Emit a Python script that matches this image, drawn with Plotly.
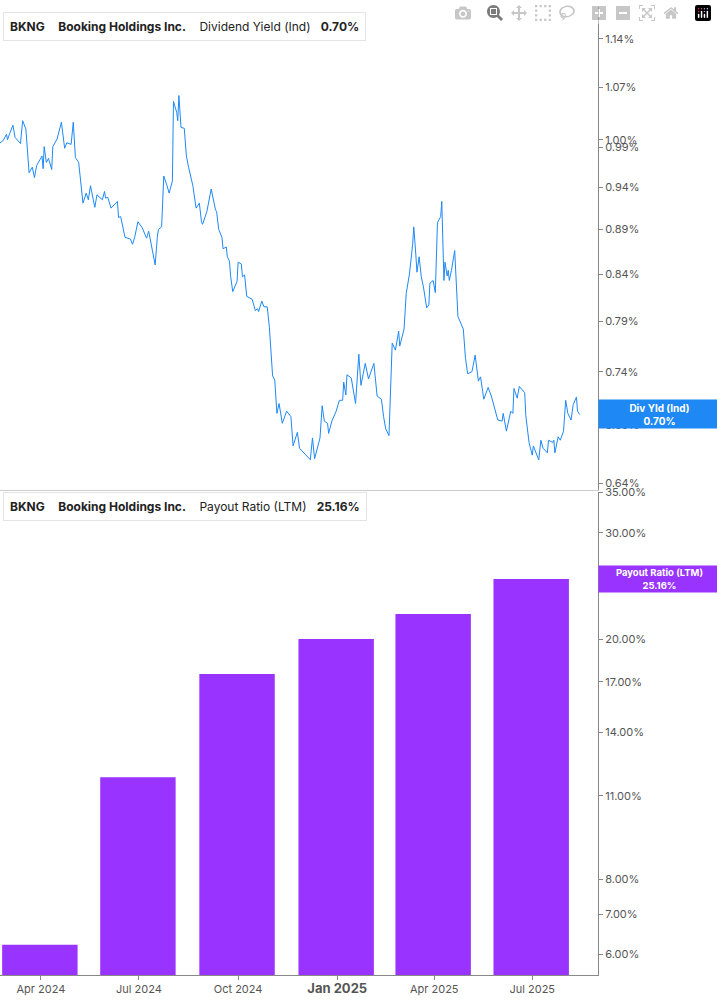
import plotly.graph_objects as go
from plotly.subplots import make_subplots
import math

# ---------------------
# Data
# ---------------------
yield_dates = [
    "2024-02-23", "2024-02-26", "2024-02-29", "2024-03-01", "2024-03-03", "2024-03-06", "2024-03-08",
    "2024-03-13", "2024-03-15", "2024-03-18", "2024-03-21", "2024-03-24", "2024-03-26", "2024-03-28",
    "2024-04-02", "2024-04-03", "2024-04-04", "2024-04-06", "2024-04-08", "2024-04-11", "2024-04-12",
    "2024-04-16", "2024-04-20", "2024-04-21", "2024-04-23", "2024-04-25", "2024-04-29", "2024-05-01",
    "2024-05-03", "2024-05-06", "2024-05-10", "2024-05-13", "2024-05-15", "2024-05-17", "2024-05-21",
    "2024-05-23", "2024-05-28", "2024-05-30", "2024-05-31", "2024-06-02", "2024-06-05", "2024-06-11",
    "2024-06-12", "2024-06-14", "2024-06-18", "2024-06-23", "2024-06-25", "2024-06-27", "2024-06-30",
    "2024-07-04", "2024-07-08", "2024-07-10", "2024-07-13", "2024-07-16", "2024-07-18", "2024-07-19",
    "2024-07-22", "2024-07-24", "2024-07-27", "2024-07-29", "2024-08-01", "2024-08-02", "2024-08-05",
    "2024-08-06", "2024-08-07", "2024-08-09", "2024-08-12", "2024-08-14", "2024-08-16", "2024-08-19",
    "2024-08-20", "2024-08-23", "2024-08-26", "2024-08-28", "2024-08-29", "2024-09-02", "2024-09-06",
    "2024-09-10", "2024-09-11", "2024-09-13", "2024-09-16", "2024-09-17", "2024-09-20", "2024-09-21",
    "2024-09-23", "2024-09-24", "2024-09-26", "2024-09-30", "2024-10-01", "2024-10-04", "2024-10-05",
    "2024-10-07", "2024-10-09", "2024-10-14", "2024-10-17", "2024-10-19", "2024-10-20", "2024-10-23",
    "2024-10-25", "2024-10-28", "2024-10-30", "2024-11-02", "2024-11-04", "2024-11-06", "2024-11-08",
    "2024-11-11", "2024-11-15", "2024-11-19", "2024-11-21", "2024-11-25", "2024-11-27", "2024-12-07",
    "2024-12-09", "2024-12-11", "2024-12-16", "2024-12-18", "2024-12-20", "2024-12-23", "2024-12-24",
    "2024-12-27", "2024-12-31", "2025-01-03", "2025-01-06", "2025-01-07", "2025-01-09", "2025-01-10",
    "2025-01-14", "2025-01-18", "2025-01-21", "2025-01-23", "2025-01-27", "2025-01-30", "2025-02-04",
    "2025-02-07", "2025-02-11", "2025-02-13", "2025-02-15", "2025-02-18", "2025-02-21", "2025-02-24",
    "2025-02-27", "2025-02-28", "2025-03-04", "2025-03-06", "2025-03-09", "2025-03-12", "2025-03-13",
    "2025-03-15", "2025-03-16", "2025-03-18", "2025-03-20", "2025-03-22", "2025-03-25", "2025-03-27",
    "2025-03-28", "2025-03-31", "2025-04-02", "2025-04-04", "2025-04-07", "2025-04-08", "2025-04-10",
    "2025-04-11", "2025-04-13", "2025-04-14", "2025-04-15", "2025-04-17", "2025-04-20", "2025-04-23",
    "2025-04-28", "2025-04-30", "2025-05-02", "2025-05-06", "2025-05-09", "2025-05-12", "2025-05-14",
    "2025-05-16", "2025-05-17", "2025-05-21", "2025-05-24", "2025-05-30", "2025-06-03", "2025-06-04",
    "2025-06-07", "2025-06-11", "2025-06-13", "2025-06-14", "2025-06-17", "2025-06-19", "2025-06-24",
    "2025-06-25", "2025-06-28", "2025-07-01", "2025-07-02", "2025-07-07", "2025-07-09", "2025-07-11",
    "2025-07-15", "2025-07-16", "2025-07-20", "2025-07-21", "2025-07-22", "2025-07-25", "2025-07-27",
    "2025-07-30", "2025-08-01", "2025-08-03", "2025-08-06", "2025-08-08", "2025-08-11", "2025-08-12",
    "2025-08-14",
]
yield_values = [
    0.996, 0.999, 1.007, 1.000, 1.008, 1.019, 1.003,
    0.995, 1.025, 1.014, 0.958, 0.965, 0.952, 0.967,
    0.979, 0.963, 0.991, 0.971, 0.976, 0.962, 0.991,
    1.001, 1.023, 1.011, 0.989, 0.996, 0.994, 1.023,
    0.977, 0.971, 0.921, 0.933, 0.925, 0.942, 0.916,
    0.931, 0.925, 0.935, 0.927, 0.928, 0.915, 0.923,
    0.904, 0.905, 0.881, 0.879, 0.873, 0.881, 0.899,
    0.892, 0.880, 0.888, 0.870, 0.850, 0.881, 0.890,
    0.893, 0.954, 0.942, 0.933, 0.948, 1.051, 1.036,
    1.025, 1.059, 1.016, 1.015, 0.979, 0.965, 0.946,
    0.942, 0.915, 0.921, 0.899, 0.896, 0.911, 0.938,
    0.913, 0.911, 0.890, 0.881, 0.868, 0.870, 0.859,
    0.854, 0.838, 0.821, 0.832, 0.853, 0.851, 0.837,
    0.839, 0.816, 0.813, 0.801, 0.803, 0.800, 0.811,
    0.805, 0.805, 0.784, 0.736, 0.732, 0.701, 0.710,
    0.692, 0.703, 0.698, 0.672, 0.684, 0.670, 0.660,
    0.679, 0.661, 0.679, 0.708, 0.694, 0.692, 0.683,
    0.694, 0.703, 0.713, 0.713, 0.730, 0.718, 0.737,
    0.734, 0.710, 0.757, 0.727, 0.748, 0.733, 0.748,
    0.717, 0.714, 0.698, 0.687, 0.681, 0.768, 0.761,
    0.780, 0.765, 0.782, 0.819, 0.840, 0.873, 0.893,
    0.860, 0.842, 0.859, 0.837, 0.826, 0.804, 0.807,
    0.830, 0.833, 0.820, 0.898, 0.905, 0.923, 0.833,
    0.853, 0.838, 0.844, 0.833, 0.844, 0.866, 0.795,
    0.782, 0.753, 0.738, 0.740, 0.756, 0.731, 0.735,
    0.721, 0.714, 0.725, 0.717, 0.695, 0.694, 0.701,
    0.685, 0.703, 0.701, 0.724, 0.715, 0.726, 0.720,
    0.699, 0.675, 0.664, 0.672, 0.660, 0.677, 0.670,
    0.666, 0.677, 0.675, 0.677, 0.666, 0.680, 0.677,
    0.685, 0.713, 0.701, 0.695, 0.709, 0.716, 0.703,
    0.700,
]

payout_dates = ["2024-03-31", "2024-06-30", "2024-09-30", "2024-12-31", "2025-03-31", "2025-06-30"]
payout_values = [6.23, 11.8, 17.5, 20.0, 22.0, 25.16]

yield_ticks = [0.64, 0.69, 0.74, 0.79, 0.84, 0.89, 0.94, 0.99, 1.00, 1.07, 1.14]
payout_ticks = [6, 7, 8, 11, 14, 17, 20, 25, 30, 35]
x_tickvals = ["2024-04-01", "2024-07-01", "2024-10-01", "2025-01-01", "2025-04-01", "2025-07-01"]
x_ticktext = ["Apr 2024", "Jul 2024", "Oct 2024", "<b style='font-size:13px'>Jan 2025</b>", "Apr 2025", "Jul 2025"]

BLUE = "#1e88f5"
PURPLE = "#9933ff"
GRID = "#888888"

# ---------------------
# Figure
# ---------------------
fig = make_subplots(rows=2, cols=1, shared_xaxes=True, vertical_spacing=0.003)

fig.add_trace(go.Scatter(x=yield_dates, y=yield_values, mode="lines",
                         line=dict(color=BLUE, width=1)), row=1, col=1)
fig.add_trace(go.Bar(x=payout_dates, y=payout_values, marker_color=PURPLE,
                     width=70 * 86400000, marker_line_width=0), row=2, col=1)

fig.update_xaxes(range=["2024-02-23", "2025-08-31"], showgrid=False, zeroline=False)
fig.update_xaxes(tickvals=x_tickvals, ticktext=x_ticktext, ticks="outside", ticklen=4,
                 tickcolor=GRID, showline=True, linecolor=GRID,
                 tickfont=dict(size=11, color="#555"), row=2, col=1)
fig.update_xaxes(showline=True, linecolor="#cccccc", showticklabels=False, row=1, col=1)

fig.update_yaxes(type="log", side="right", showgrid=False, zeroline=False, showline=True,
                 linecolor=GRID, ticks="outside", ticklen=4, tickcolor=GRID,
                 tickfont=dict(size=11, color="#555"))
fig.update_yaxes(range=[math.log10(0.635), math.log10(1.188)], tickvals=yield_ticks,
                 ticktext=[f"{v:.2f}%" for v in yield_ticks], row=1, col=1)
fig.update_yaxes(range=[math.log10(5.55), math.log10(35.0)], tickvals=payout_ticks,
                 ticktext=[f"{v:.2f}%" for v in payout_ticks], row=2, col=1)

# right-side value tags
fig.add_annotation(x=1, xref="paper", xanchor="left", y=math.log10(yield_values[-1]), yref="y",
                   text="<b>Div Yld (Ind)<br>0.70%</b>", showarrow=False, bgcolor=BLUE, width=119,
                   height=26, font=dict(size=10, color="white"), align="center", borderpad=1)
fig.add_annotation(x=1, xref="paper", xanchor="left", y=math.log10(payout_values[-1]), yref="y2",
                   text="<b>Payout Ratio (LTM)<br>25.16%</b>", showarrow=False, bgcolor=PURPLE, width=119,
                   height=24, font=dict(size=9.5, color="white"), align="center", borderpad=1)

# legend boxes
for yy, label, color in [(0.995, "Dividend Yield (Ind)   <b>0.70%</b>", BLUE),
                         (0.499, "Payout Ratio (LTM)   <b>25.16%</b>", PURPLE)]:
    fig.add_annotation(x=0.005, xref="paper", y=yy, yref="paper", xanchor="left", yanchor="top",
                       text="<b>BKNG</b>    <b>Booking Holdings Inc.</b>    " + label,
                       showarrow=False, bgcolor="white", bordercolor="#e4e4e4", borderwidth=1,
                       borderpad=6, font=dict(size=12, color="#222"))
    fig.add_shape(type="rect", xref="paper", yref="paper", x0=0.005, x1=0.011,
                  y0=yy - 0.026, y1=yy - 0.002, fillcolor=color, line_width=0)

fig.update_layout(
    width=717, height=1005,
    margin=dict(l=0, r=119, t=0, b=30),
    plot_bgcolor="white", paper_bgcolor="white",
    showlegend=False,
    font=dict(family="Inter", size=11, color="#444"),
)

fig.write_html("out.html", post_script="document.body.style.margin='0';")
